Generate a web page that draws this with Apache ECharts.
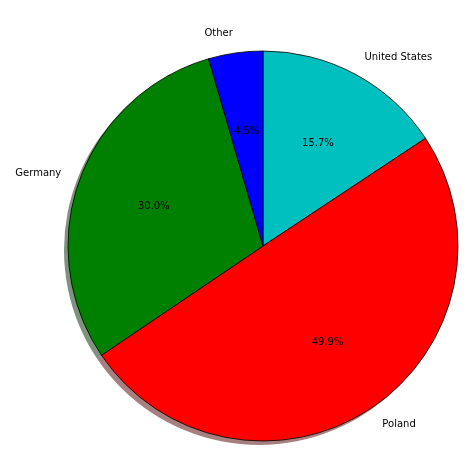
<!DOCTYPE html>
<html>
<head>
<meta charset="utf-8">
<script src="https://cdn.jsdelivr.net/npm/echarts@6/dist/echarts.min.js"></script>
<style>html,body{margin:0;padding:0;background:#fff;}#c{width:474px;height:474px;}</style>
</head>
<body>
<div id="c"></div>
<script>
const categories = ['United States', 'Poland', 'Germany', 'Other'];
const values = [15.7, 49.9, 30.0, 4.5];
const colors = ['#00bfbf', '#ff0000', '#008000', '#0000ff'];

function shadowColor(hex) {
  const r = parseInt(hex.slice(1, 3), 16), g = parseInt(hex.slice(3, 5), 16), b = parseInt(hex.slice(5, 7), 16);
  return 'rgba(' + Math.round(r * 0.3) + ',' + Math.round(g * 0.3) + ',' + Math.round(b * 0.3) + ',0.5)';
}

const R = 195, CX = 263, CY = 246;
const font = 'DejaVu Sans';

const chart = echarts.init(document.getElementById('c'), null, {renderer: 'canvas'});
chart.setOption({
  animation: false,
  backgroundColor: '#fff',
  series: [
    {
      type: 'pie', silent: true, startAngle: 90, clockwise: true,
      center: [CX - 4, CY + 4], radius: [0, R],
      label: {show: false}, labelLine: {show: false},
      data: categories.map((c, i) => ({name: c, value: values[i], itemStyle: {color: shadowColor(colors[i])}}))
    },
    {
      type: 'pie', silent: true, startAngle: 90, clockwise: true,
      center: [CX, CY], radius: [0, R], avoidLabelOverlap: false,
      itemStyle: {borderColor: '#000', borderWidth: 0.8},
      label: {show: true, position: 'outside', distanceToLabelLine: 0, color: '#000', fontFamily: font, fontSize: 10, formatter: '{b}'},
      labelLine: {show: false, length: R * 0.1, length2: 0},
      data: categories.map((c, i) => ({name: c, value: values[i], itemStyle: {color: colors[i]}}))
    },
    {
      type: 'pie', silent: true, startAngle: 90, clockwise: true,
      center: [CX, CY], radius: [R * 0.16, R], avoidLabelOverlap: false,
      itemStyle: {color: 'rgba(0,0,0,0)', borderWidth: 0},
      label: {show: true, position: 'inside', color: '#000', fontFamily: font, fontSize: 10,
        formatter: p => p.value.toFixed(1) + '%'},
      labelLine: {show: false},
      data: categories.map((c, i) => ({name: c, value: values[i]}))
    }
  ]
});
</script>
</body>
</html>
